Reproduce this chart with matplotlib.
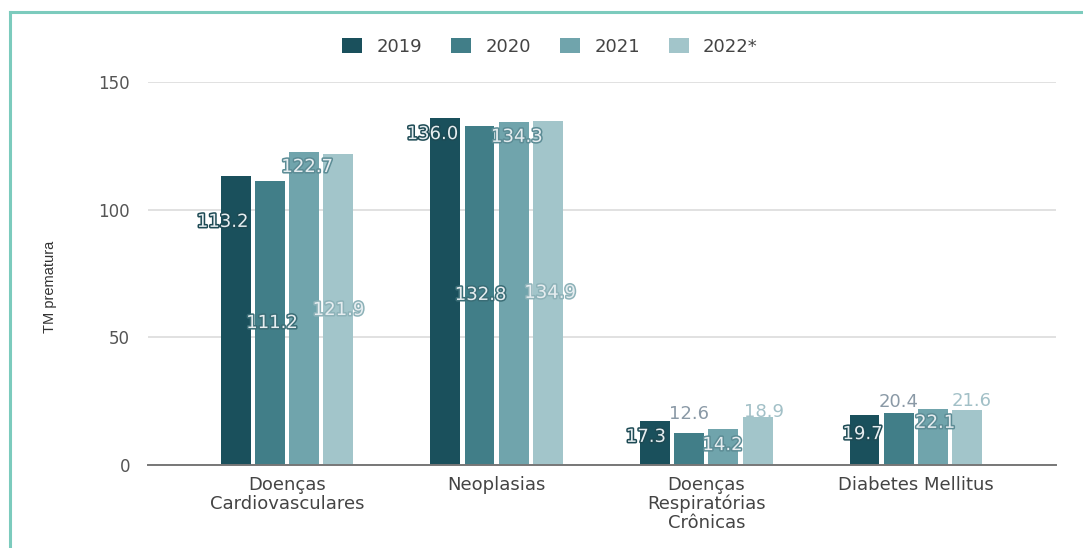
import matplotlib
matplotlib.use('Agg')
import matplotlib.pyplot as plt
import matplotlib.patheffects as pe
from matplotlib.lines import Line2D
import numpy as np

categories = ['Doenças\nCardiovasculares', 'Neoplasias', 'Doenças\nRespiratórias\nCrônicas', 'Diabetes Mellitus']
years = ['2019', '2020', '2021', '2022*']
v2019 = [113.2, 136.0, 17.3, 19.7]
v2020 = [111.2, 132.8, 12.6, 20.4]
v2021 = [122.7, 134.3, 14.2, 22.1]
v2022 = [121.9, 134.9, 18.9, 21.6]
series = [v2019, v2020, v2021, v2022]

colors = ['#1a505c', '#417e88', '#70a4ac', '#a2c5ca']
strokes = ['#1d4a54', '#3a6d76', '#5c8c95', '#8db2b8']
outside_colors = ['#6f8590', '#8a99a6', '#8fa8b0', '#a2c0c7']

# where the labels sit in the original (odd placement kept as is)
label_y = [[95.2, 129.6, 11.0, 12.1],
           [55.6, 66.6, 20.0, 24.7],
           [116.7, 128.5, 7.8, 16.5],
           [60.7, 67.4, 20.8, 25.0]]
label_dx = [[-13, -13, -9, -2],
            [2, 1, 0, 0],
            [3, 3, -1, 2],
            [0, 2, 6, 4]]

W, H = 1083, 548
fig = plt.figure(figsize=(W / 100, H / 100), dpi=100)
ax = fig.add_axes([148 / W, 1 - 465 / H, (1056 - 148) / W, (465 - 82) / H])

x = np.arange(len(categories))
step = 0.1636
width = 0.143
for i, vals in enumerate(series):
    off = (i - 1.5) * step
    ax.bar(x + off, vals, width, color=colors[i], label=years[i], zorder=3)
    for j, v in enumerate(vals):
        ly = label_y[i][j]
        if ly < v:
            t = ax.annotate('%.1f' % v, (x[j] + off, ly), xytext=(label_dx[i][j] * 0.72, 0),
                            textcoords='offset points', ha='center', va='center',
                            fontsize=13, color='#e6edf0', zorder=5)
            t.set_path_effects([pe.withStroke(linewidth=2.2, foreground=strokes[i])])
        else:
            ax.annotate('%.1f' % v, (x[j] + off, ly), xytext=(label_dx[i][j] * 0.72, 0),
                        textcoords='offset points', ha='center', va='center',
                        fontsize=13, color=outside_colors[i], zorder=5)

ax.set_ylim(0, 150)
ax.set_xlim(-0.663, 3.668)
ax.set_yticks([0, 50, 100, 150])
ax.set_xticks(x)
ax.set_xticklabels(categories, fontsize=13, color='#444444', linespacing=1.05)
ax.tick_params(axis='y', length=0, pad=13, labelsize=12, labelcolor='#555555')
ax.tick_params(axis='x', length=0, pad=8)
ax.grid(axis='y', color='#dcdcdc', linewidth=1.2, zorder=0)
for s in ['top', 'right', 'left']:
    ax.spines[s].set_visible(False)
ax.spines['bottom'].set_color('#777777')
ax.spines['bottom'].set_linewidth(1.4)
ax.spines['bottom'].set_zorder(4)

fig.text(50 / W, 1 - 287 / H, 'TM prematura', rotation=90, ha='center', va='center',
         fontsize=10.5, family='Liberation Sans', color='#333333')

fig.legend(loc='center', bbox_to_anchor=(550 / W, 1 - 47 / H), ncol=4, frameon=False,
           fontsize=13, handlelength=1.1, handleheight=0.9, handletextpad=0.8,
           columnspacing=1.6, labelcolor='#444444')

# teal frame from the screenshot
fig.add_artist(Line2D([10 / W, 10 / W], [0, 1 - 12 / H], color='#7ccbbd', linewidth=2.2,
                      transform=fig.transFigure))
fig.add_artist(Line2D([10 / W, 1], [1 - 12 / H, 1 - 12 / H], color='#7ccbbd', linewidth=2.2,
                      transform=fig.transFigure))

fig.savefig('out.png', dpi=100)
